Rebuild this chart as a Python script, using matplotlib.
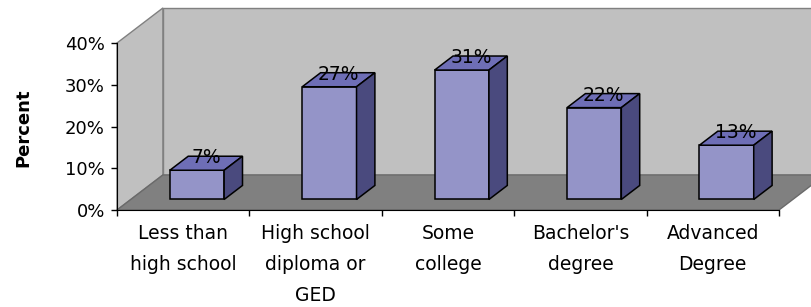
import matplotlib.pyplot as plt
from matplotlib.patches import Polygon
from matplotlib.ticker import FuncFormatter

categories = ["Less than\nhigh school", "High school\ndiploma or\nGED", "Some\ncollege",
              "Bachelor's\ndegree", "Advanced\nDegree"]
percents = [7, 27, 31, 22, 13]
yticks = [0, 10, 20, 30, 40]

plt.rcParams['font.family'] = ['DejaVu Sans']

# 3d look: depth offset of the walls, in data units (x = categories, y = percent)
DX, DY = 0.347, 8.4
BAR_W = 0.41
FRONT, BACK = 0.3, 0.7   # bar position inside the depth

fig = plt.figure(figsize=(8.12, 3.07), dpi=100)
ax = fig.add_axes([117 / 812, 97 / 307, 662 / 812, 167 / 307])
n = len(categories)
ymax = yticks[-1]
ax.set_xlim(0, n)
ax.set_ylim(0, ymax)
ax.patch.set_visible(False)

wall = dict(facecolor='#C0C0C0', edgecolor='#808080', lw=1, clip_on=False, zorder=0)
ax.add_patch(Polygon([(0, 0), (0, ymax), (DX, ymax + DY), (DX, DY)], **wall))
ax.add_patch(Polygon([(DX, DY), (DX, ymax + DY), (n + DX + 1, ymax + DY), (n + DX + 1, DY)], **wall))
ax.add_patch(Polygon([(0, 0), (n, 0), (n + DX, DY), (DX, DY)],
                     facecolor='#808080', edgecolor='#6a6a6a', lw=1, clip_on=False, zorder=0.5))

for i, v in enumerate(percents):
    x0 = i + 0.5 - BAR_W / 2 + FRONT * DX
    y0 = FRONT * DY
    ddx, ddy = (BACK - FRONT) * DX, (BACK - FRONT) * DY
    x1 = x0 + BAR_W
    style = dict(edgecolor='black', lw=1.1, clip_on=False, zorder=3, joinstyle='miter')
    ax.add_patch(Polygon([(x0, y0), (x1, y0), (x1, y0 + v), (x0, y0 + v)], facecolor='#9494C8', **style))
    ax.add_patch(Polygon([(x0, y0 + v), (x1, y0 + v), (x1 + ddx, y0 + v + ddy), (x0 + ddx, y0 + v + ddy)],
                         facecolor='#6E6EB6', **style))
    ax.add_patch(Polygon([(x1, y0), (x1 + ddx, y0 + ddy), (x1 + ddx, y0 + v + ddy), (x1, y0 + v)],
                         facecolor='#4A4A7E', **style))
    ax.annotate(f"{v}%", (i + 0.5 + 0.5 * DX, v + 0.5 * DY), xytext=(0, 4), textcoords='offset points',
                ha='center', va='center', fontsize=13.5, zorder=4, annotation_clip=False)

for s in ['top', 'right']:
    ax.spines[s].set_visible(False)
ax.spines['left'].set_zorder(2)
ax.spines['bottom'].set_zorder(2)

ax.set_yticks(yticks)
ax.yaxis.set_major_formatter(FuncFormatter(lambda v, p: f"{v:.0f}%"))
ax.tick_params(axis='y', direction='out', length=4.3, width=1, pad=4.5, labelsize=13)
ax.set_xticks(range(n + 1))
ax.set_xticklabels([])
ax.set_xticks([i + 0.5 for i in range(n)], minor=True)
ax.set_xticklabels(categories, minor=True, fontsize=13.5, linespacing=1.8)
ax.tick_params(axis='x', which='major', direction='out', length=4.3, width=1)
ax.tick_params(axis='x', which='minor', length=0, pad=10)

fig.text(23 / 812, 1 - 128 / 307, "Percent", rotation=90, ha='center', va='center',
         fontsize=13, fontweight='bold')

fig.savefig("out.png", dpi=100)
